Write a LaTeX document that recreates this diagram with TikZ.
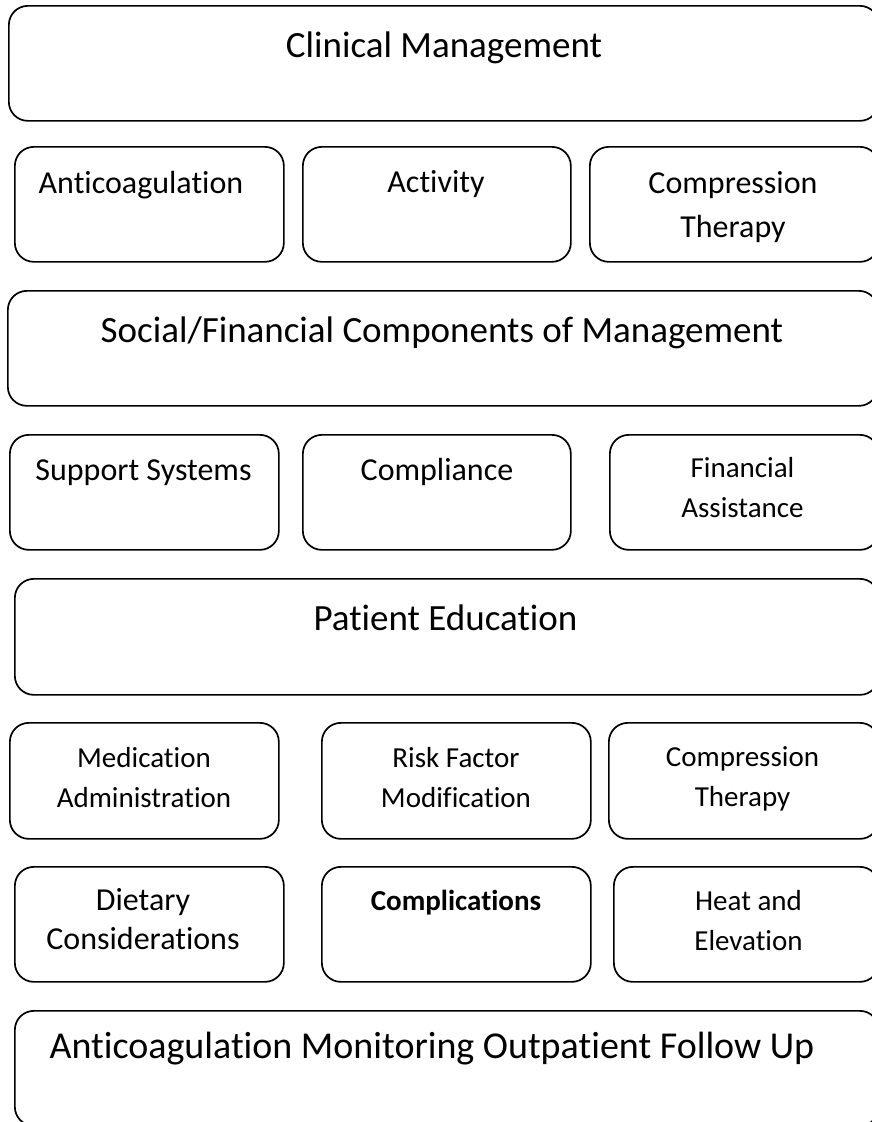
\documentclass[tikz,border=0pt]{standalone}
\usepackage{fontspec}
\setmainfont{Carlito}[Ligatures=CommonOff]
\usepackage{tikz}
\usetikzlibrary{positioning}

\begin{document}
\begin{tikzpicture}[x=1pt, y=-1pt,
			panel/.style={draw, line width=1.7pt, rounded corners=19pt, anchor=north west, minimum width=870pt, minimum height=115pt},
			item/.style={draw, line width=1.7pt, rounded corners=19pt, anchor=north west, minimum height=115pt},
			headtext/.style={anchor=base, font=\fontsize{37}{44}\selectfont},
			bodytext/.style={anchor=base, align=center, font=\fontsize{32}{44}\selectfont},
			smalltext/.style={anchor=base, align=center, font=\fontsize{29}{40}\selectfont}
			]
			\clip (0,0) rectangle (872,1122);
			\node [panel](clinical) at (8,5) {};
			\node [item, minimum width=269pt](anticoag) at (14,146) {};
			\node [item, minimum width=268pt](activity) at (302,146) {};
			\node [item, minimum width=289pt](compress) at (589,146) {};
			\node [panel](social) at (7,290) {};
			\node [item, minimum width=269pt](support) at (9,434) {};
			\node [item, minimum width=268pt](compliance) at (302,434) {};
			\node [item, minimum width=269pt](financial) at (609,434) {};
			\node [panel, minimum width=864pt, minimum height=116pt](education) at (14,578) {};
			\node [item, minimum width=269pt, minimum height=116pt](medication) at (9,722) {};
			\node [item, minimum width=269pt, minimum height=116pt](riskfactor) at (321,722) {};
			\node [item, minimum width=270pt, minimum height=116pt](compress2) at (608,722) {};
			\node [item, minimum width=269pt](dietary) at (14,866) {};
			\node [item, minimum width=269pt](complic) at (321,866) {};
			\node [item, minimum width=265pt](heat) at (613,866) {};
			\node [panel, minimum width=864pt](followup) at (14,1010) {};
			
			% multi-line texts sit on the baseline of their last line
			\node [headtext](clinical-t) at (444,57) {Clinical Management};
			\node [bodytext](anticoag-t) at (141,193) {Anticoagulation};
			\node [bodytext](activity-t) at (436,192) {Activity};
			\node [bodytext](compress-t) at (733,237) {Compression\\Therapy};
			\node [headtext](social-t) at (442,342) {Social/Financial Components of Management};
			\node [bodytext](support-t) at (143.5,480) {Support Systems};
			\node [bodytext](compliance-t) at (437,480) {Compliance};
			\node [smalltext](financial-t) at (742.5,517) {Financial\\Assistance};
			\node [headtext](education-t) at (445.5,630) {Patient Education};
			\node [smalltext](medication-t) at (144,807) {Medication\\Administration};
			\node [smalltext](riskfactor-t) at (456,807) {Risk Factor\\Modification};
			\node [smalltext](compress2-t) at (742.5,806) {Compression\\Therapy};
			\node [bodytext, font=\fontsize{32}{39}\selectfont](dietary-t) at (143,949) {Dietary\\Considerations};
			\node [smalltext, font=\bfseries\fontsize{29}{31}\selectfont](complic-t) at (456,910) {Complications};
			\node [smalltext](heat-t) at (748.5,950) {Heat and\\Elevation};
			\node [headtext, font=\fontsize{38}{44}\selectfont](followup-t) at (432,1058) {Anticoagulation Monitoring Outpatient Follow Up};
		\end{tikzpicture}
\end{document}
